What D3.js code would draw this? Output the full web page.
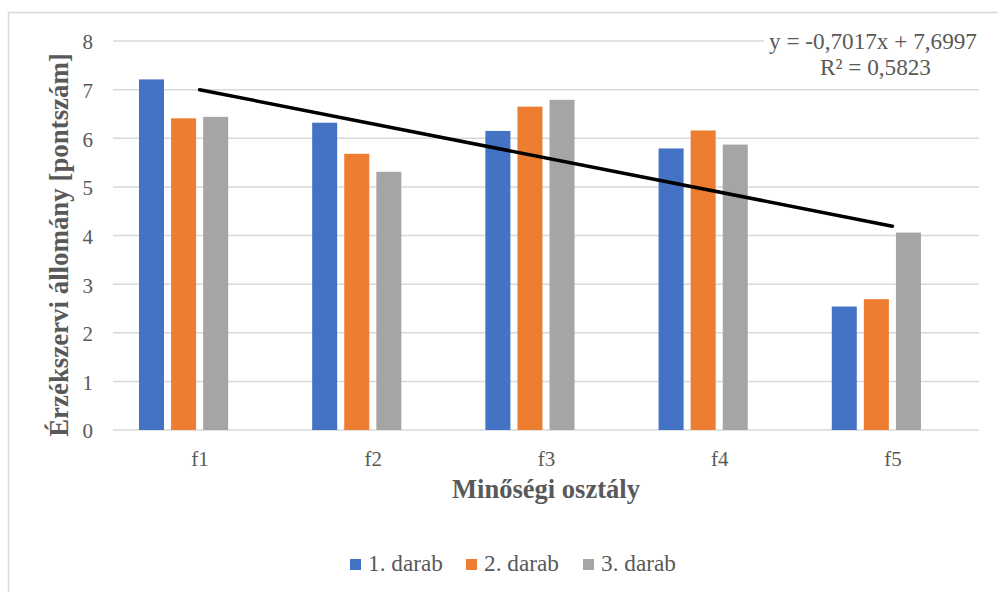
<!DOCTYPE html>
<html><head><meta charset="utf-8">
<script src="https://cdn.jsdelivr.net/npm/d3@7"></script>
<style>html,body{margin:0;padding:0;background:#fff;}svg{display:block;}</style>
</head><body>
<script>
const categories = ["f1","f2","f3","f4","f5"];
const seriesNames = ["1. darab","2. darab","3. darab"];
const series1 = [7.21, 6.32, 6.15, 5.79, 2.54];
const series2 = [6.41, 5.68, 6.65, 6.16, 2.69];
const series3 = [6.44, 5.31, 6.79, 5.87, 4.06];
const colors = ["#4472C4","#ED7D31","#A5A5A5"];
const yTicks = [0,1,2,3,4,5,6,7,8];
const trendSlope = -0.7017, trendIntercept = 7.6997;
const trendLabel1 = "y = -0,7017x + 7,6997";
const trendLabel2 = "R² = 0,5823";
const yTitle = "Érzékszervi állomány [pontszám]";
const xTitle = "Minőségi osztály";

(function(){
const W = 998, H = 592;
const svg = d3.select("body").append("svg").attr("width", W).attr("height", H);
const font = "'Liberation Serif','Times New Roman',serif";
const grey = "#595959";

// scale a text's font-size so that its rendered length matches a target
function fit(sel, base, target){
  const len = sel.node().getComputedTextLength();
  if (len > 0) sel.attr("font-size", base * target / len);
  return sel;
}

svg.append("rect").attr("x",8.5).attr("y",12.5).attr("width",1000).attr("height",700)
  .attr("fill","none").attr("stroke","#D9D9D9").attr("stroke-width",1.5);

const pLeft = 113, pRight = 979, pTop = 41, pBottom = 430;
const y = d3.scaleLinear().domain([0,8]).range([pBottom, pTop]);
const x0 = d3.scaleBand().domain(categories).range([pLeft,pRight]).paddingInner(0.3).paddingOuter(0.15);
const x1 = d3.scaleBand().domain(["s1","s2","s3","s4"]).range([0, x0.bandwidth()]).paddingInner(0.22);
const xc = d3.scalePoint().domain(categories).range([pLeft,pRight]).padding(0.5);

// grid
svg.append("g").selectAll("line").data(yTicks).join("line")
  .attr("x1",pLeft).attr("x2",pRight).attr("y1",d=>y(d)).attr("y2",d=>y(d))
  .attr("stroke","#D9D9D9").attr("stroke-width",1.5);

// y tick labels
const yAxis = d3.axisLeft(y).tickValues(yTicks).tickSize(0).tickPadding(0);
const ya = svg.append("g").attr("transform",`translate(${93},0)`).call(yAxis);
ya.select(".domain").remove();
ya.selectAll("text").attr("font-family",font).attr("font-size",21).attr("fill",grey).attr("dy","0.38em");

// x labels
const xAxis = d3.axisBottom(xc).tickSize(0).tickPadding(0);
const xa = svg.append("g").attr("transform",`translate(0,${466})`).call(xAxis);
xa.select(".domain").remove();
xa.selectAll("text").attr("font-family",font).attr("font-size",21).attr("fill",grey).attr("dy","0").attr("y",0);

// bars
const allSeries = [series1, series2, series3];
const keys = ["s1","s2","s3"];
allSeries.forEach((vals, si) => {
  svg.append("g").selectAll("rect").data(vals).join("rect")
    .attr("x",(d,i)=>x0(categories[i]) + x1(keys[si]))
    .attr("width",x1.bandwidth())
    .attr("y",d=>y(d)).attr("height",d=>y(0)-y(d))
    .attr("fill",colors[si]);
});

// trendline
const tx = [1,5];
svg.append("line")
  .attr("x1",xc(categories[0])).attr("y1",y(trendSlope*tx[0]+trendIntercept))
  .attr("x2",xc(categories[4])).attr("y2",y(trendSlope*tx[1]+trendIntercept))
  .attr("stroke","#000").attr("stroke-width",3.5).attr("stroke-linecap","round");

// trend label
svg.append("rect").attr("x",764).attr("y",26).attr("width",216).attr("height",54).attr("fill","#fff");
const t1 = svg.append("text").attr("x",873).attr("y",48.5).attr("text-anchor","middle")
  .attr("font-family",font).attr("font-size",20).attr("fill",grey).text(trendLabel1);
fit(t1, 20, 208);
const eqSize = +t1.attr("font-size");
svg.append("text").attr("x",875.5).attr("y",75).attr("text-anchor","middle")
  .attr("font-family",font).attr("font-size",eqSize).attr("fill",grey).text(trendLabel2);

// axis titles
const yt = svg.append("text").attr("transform",`translate(68,245) rotate(-90)`)
  .attr("text-anchor","middle").attr("font-family",font).attr("font-size",21)
  .attr("font-weight","bold").attr("fill",grey).text(yTitle);
fit(yt, 21, 384);
const xt = svg.append("text").attr("x",(pLeft+pRight)/2).attr("y",498).attr("text-anchor","middle")
  .attr("font-family",font).attr("font-size",21).attr("font-weight","bold").attr("fill",grey).text(xTitle);
fit(xt, 21, 188);

// legend
const legX = [350, 466, 583];
seriesNames.forEach((n,i)=>{
  svg.append("rect").attr("x",legX[i]).attr("y",559).attr("width",11).attr("height",11).attr("fill",colors[i]);
  const lt = svg.append("text").attr("x",legX[i]+18).attr("y",570.5).attr("font-family",font).attr("font-size",20)
    .attr("fill",grey).text(n);
  fit(lt, 20, 75);
});
})();
</script>
</body></html>
